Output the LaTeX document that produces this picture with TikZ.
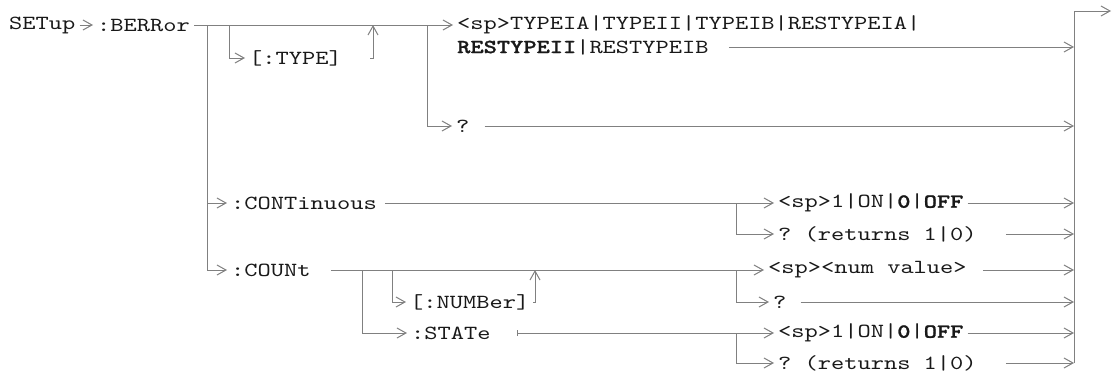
\documentclass[tikz,border=0pt]{standalone}
\usepackage{fontspec}
\setmonofont{lmmono10-regular.otf}[BoldFont=lmmonolt10-bold.otf, BoldFeatures={FakeBold=1.2}, FakeStretch=1.26]
\usetikzlibrary{arrows.meta, calc}
\definecolor{linegray}{RGB}{128,128,128}
\definecolor{textgray}{RGB}{25,25,25}
\tikzset{
    kw/.style={anchor=west, inner xsep=4pt, inner ysep=0pt, text=textgray,
        font=\ttfamily\fontsize{20}{24}\selectfont},
    conn/.style={draw=linegray, line width=1pt},
    >={Straight Barb[length=9pt,width=10pt]}
}
\begin{document}
\begin{tikzpicture}[x=1pt, y=-1pt]
        \useasboundingbox[fill=white] (0,0) rectangle (1113,372);
        % Layout
        \node [kw] (setup) at (5,25) {SETup};
        \node [kw] (berr) at (93,25) {:BERRor};
        \node [kw] (typeA) at (453,25) {<sp>TYPEIA|TYPEII|TYPEIB|RESTYPEIA|};
        \node [kw] (typeB) at (453,47) {\textbf{RESTYPEII}|RESTYPEIB};
        \node [kw] (q1) at (452,126) {?};
        \node [kw] (type) at (245,58) {[:TYPE]};
        \node [kw] (cont) at (227,203) {:CONTinuous};
        \node [kw] (count) at (227,270) {:COUNt};
        \node [kw] (numb) at (406,302) {[:NUMBer]};
        \node [kw] (state) at (407,333) {:STATe};
        \node [kw] (on1) at (774,203) {<sp>1|ON|\textbf{0}|\textbf{OFF}};
        \node [kw] (ret1) at (774,234) {? (returns 1|0)};
        \node [kw] (nv) at (764,270) {<sp><num value>};
        \node [kw] (q2) at (769,302) {?};
        \node [kw] (on2) at (774,333) {<sp>1|ON|\textbf{0}|\textbf{OFF}};
        \node [kw] (ret2) at (774,363) {? (returns 1|0)};

        % Junctions
        \coordinate (b1) at (207,25);
        \coordinate (b2) at (229,25);
        \coordinate (b3) at (373,25);
        \coordinate (b4) at (427,25);
        \coordinate (c1) at (362,270);
        \coordinate (c2) at (392,270);
        \coordinate (c3) at (535,270);
        \coordinate (k1) at (736,203);
        \coordinate (k2) at (736,270);
        \coordinate (k3) at (736,333);
        \coordinate (railbot) at (1074,363);
        \coordinate (exit) at (1111,11);

        % Flows
        \draw [conn,->] (setup.east) -- (berr.west);
        \draw [conn,->] (berr.east) -- (typeA.west);
        \draw [conn,->] (b2) |- (type.west);
        \draw [conn,shorten <=24pt,->] (type.east) -| (b3);
        \draw [conn,->] (b4) |- (q1.west);
        \draw [conn,->] (b1) |- (cont.west);
        \draw [conn,->] (b1) |- (count.west);
        \draw [conn,shorten <=4pt,->] (cont.east) -- (on1.west);
        \draw [conn,->] (k1) |- (ret1.west);
        \draw [conn,shorten <=16pt,->] (count.east) -- (nv.west);
        \draw [conn,->] (k2) |- (q2.west);
        \draw [conn,->] (c2) |- (numb.west);
        \draw [conn,->] (numb.east) -| (c3);
        \draw [conn,->] (c1) |- (state.west);
        \draw [conn,shorten <=22pt,{Bar[width=6pt]}-{Straight Barb[length=9pt,width=10pt]}] (state.east) -- (on2.west);
        \draw [conn,->] (k3) |- (ret2.west);

        % Rail
        \draw [conn,shorten <=16pt,->] (typeB.east) -- (typeB.east -| railbot);
        \draw [conn,shorten <=11pt,->] (q1.east) -- (q1.east -| railbot);
        \draw [conn,->] (on1.east) -- (on1.east -| railbot);
        \draw [conn,shorten <=25pt,->] (ret1.east) -- (ret1.east -| railbot);
        \draw [conn,shorten <=12pt,->] (nv.east) -- (nv.east -| railbot);
        \draw [conn,shorten <=10pt,->] (q2.east) -- (q2.east -| railbot);
        \draw [conn,->] (on2.east) -- (on2.east -| railbot);
        \draw [conn,shorten <=25pt,->] (ret2.east) -- (ret2.east -| railbot);
        \draw [conn,->] (railbot) |- (exit);
    \end{tikzpicture}
\end{document}
